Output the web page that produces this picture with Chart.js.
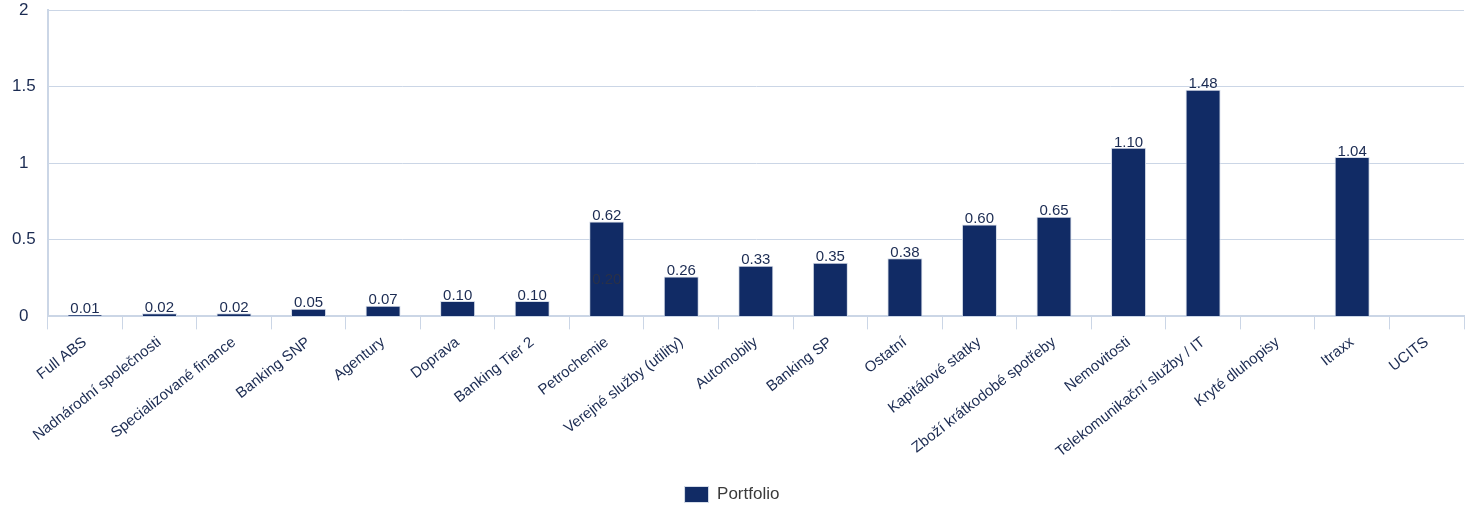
<!DOCTYPE html>
<html>
<head>
<meta charset="utf-8">
<script src="https://cdn.jsdelivr.net/npm/chart.js@4/dist/chart.umd.min.js"></script>
<style>
  html, body { margin: 0; padding: 0; background: #fff; }
  #wrap { width: 1472px; height: 506px; }
</style>
</head>
<body>
<div id="wrap"><canvas id="canvas"></canvas></div>
<script>
// categories and values
var categories = ['Full ABS', 'Nadnárodní společnosti', 'Specializované finance', 'Banking SNP', 'Agentury',
  'Doprava', 'Banking Tier 2', 'Petrochemie', 'Verejné služby (utility)', 'Automobily', 'Banking SP',
  'Ostatní', 'Kapitálové statky', 'Zboží krátkodobé spotřeby', 'Nemovitosti', 'Telekomunikační služby / IT',
  'Kryté dluhopisy', 'Itraxx', 'UCITS'];
var portfolio = [0.01, 0.02, 0.02, 0.05, 0.07, 0.10, 0.10, 0.62, 0.26, 0.33, 0.35, 0.38, 0.60, 0.65, 1.10, 1.48, null, 1.04, null];
// stray label that shows inside the Petrochemie bar
var ghost = [null, null, null, null, null, null, null, 0.20, null, null, null, null, null, null, null, null, null, null, null];
var yTicks = [0, 0.5, 1, 1.5, 2];

var navy = '#112b65';
var textCol = '#1b2b52';
var gridCol = '#cbd6e6';
var fam = '"Liberation Sans", Arial, sans-serif';

// write value above each bar
var valueLabels = {
  id: 'valueLabels',
  afterDatasetsDraw: function (chart) {
    var ctx = chart.ctx;
    ctx.save();
    ctx.font = '15px ' + fam;
    ctx.textAlign = 'center';
    ctx.textBaseline = 'bottom';
    chart.data.datasets.forEach(function (ds, i) {
      var meta = chart.getDatasetMeta(i);
      ctx.fillStyle = i === 0 ? textCol : '#2a3148';
      meta.data.forEach(function (bar, j) {
        if (ds.data[j] == null) return;
        ctx.fillText(ds.data[j].toFixed(2), bar.x, bar.y + 2);
      });
    });
    ctx.restore();
  }
};

var ctx = document.getElementById('canvas').getContext('2d');
window.myBar = new Chart(ctx, {
  type: 'bar',
  data: {
    labels: categories,
    datasets: [{
      label: 'Portfolio',
      data: portfolio,
      backgroundColor: navy,
      borderColor: '#d5dce8',
      borderWidth: 1,
      barPercentage: 0.47,
      categoryPercentage: 1,
      grouped: false
    }, {
      label: 'ghost',
      data: ghost,
      backgroundColor: 'rgba(0,0,0,0)',
      borderWidth: 0,
      barPercentage: 0.47,
      categoryPercentage: 1,
      grouped: false
    }]
  },
  options: {
    responsive: true,
    maintainAspectRatio: false,
    animation: false,
    layout: { padding: { top: 10, right: 8, left: 0, bottom: -7 } },
    plugins: {
      legend: {
        position: 'bottom',
        labels: {
          boxWidth: 24, boxHeight: 16, padding: 4,
          color: '#3a3a3a', font: { size: 17, family: fam },
          filter: function (item) { return item.text === 'Portfolio'; }
        }
      },
      tooltip: { enabled: false }
    },
    scales: {
      x: {
        offset: true,
        grid: { drawOnChartArea: false, drawTicks: true, tickLength: 13, color: gridCol, offset: true },
        border: { color: gridCol, width: 2 },
        ticks: {
          color: textCol, minRotation: 38, maxRotation: 38, autoSkip: false, padding: 4,
          font: { size: 15, family: fam }
        },
        afterFit: function (scale) { scale.height += 17; scale.paddingLeft = 0; scale.paddingRight = 0; }
      },
      y: {
        min: 0, max: 2,
        afterBuildTicks: function (axis) { axis.ticks = yTicks.map(function (v) { return { value: v }; }); },
        grid: { color: gridCol, lineWidth: 1, drawTicks: false },
        border: { color: gridCol, width: 2 },
        ticks: {
          color: textCol, padding: 12, crossAlign: 'center',
          font: { size: 17, family: fam },
          callback: function (v) { return String(v); }
        },
        afterFit: function (scale) { scale.paddingTop = 0; scale.paddingBottom = 0; }
      }
    }
  },
  plugins: [valueLabels]
});
</script>
</body>
</html>
